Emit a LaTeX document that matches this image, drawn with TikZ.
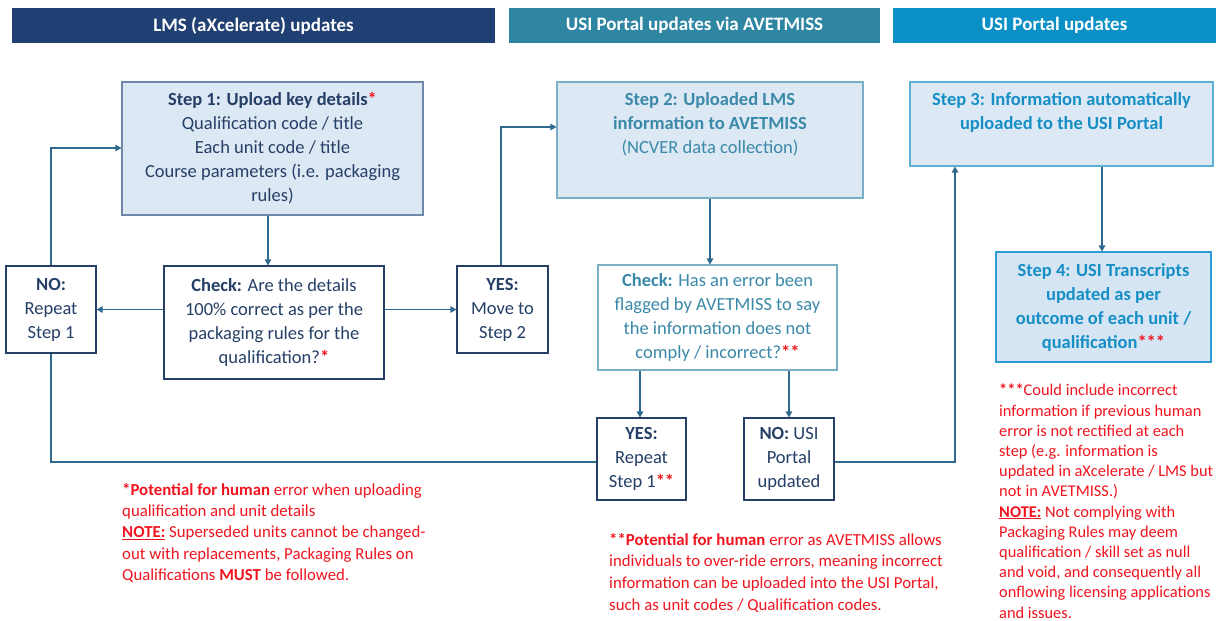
\documentclass[tikz,border=0pt]{standalone}
\usepackage{fontspec}
\setmainfont{Carlito}
\usetikzlibrary{arrows.meta,positioning}
\definecolor{navy}{HTML}{203F72}
\definecolor{tealbar}{HTML}{2F86A3}
\definecolor{bluebar}{HTML}{0A90C7}
\definecolor{lfill}{HTML}{DDE8F5}
\definecolor{lfillb}{HTML}{D5E5F3}
\definecolor{bnavy}{HTML}{6F88A9}
\definecolor{bteal}{HTML}{7AAFC6}
\definecolor{bblue}{HTML}{5BB0D8}
\definecolor{bblue2}{HTML}{2C9CD6}
\definecolor{tnavy}{HTML}{253F66}
\definecolor{tteal}{HTML}{3A89A8}
\definecolor{tblue}{HTML}{168FC6}
\definecolor{conn}{HTML}{2D6A8E}
\definecolor{nred}{HTML}{F0141E}
\tikzset{
  header/.style={fill=#1, text=white, font=\fontsize{19}{22}\selectfont\bfseries, inner sep=0pt},
  box/.style={draw=#1, line width=1.1pt, inner sep=0pt, align=center, font=\fontsize{18.5}{24}\selectfont},
  conline/.style={draw=conn, line width=1.1pt},
  conarrow/.style={conline, -{Triangle[length=6pt,width=6.5pt]}},
  note/.style={text=nred, align=left, anchor=north west, inner sep=0pt, font=\fontsize{16.8}{21.3}\selectfont}
}
\newcommand{\rst}[1]{\textcolor{nred}{\textbf{#1}}}
\begin{document}
\begin{tikzpicture}[x=1pt,y=-1pt]
\useasboundingbox (0,0) rectangle (1216,621);
% headers
\node[header=navy, minimum width=483pt, minimum height=35pt] (h1) at (253.5,25.5) {LMS (aXcelerate) updates};
\node[header=tealbar, minimum width=371pt, minimum height=35pt] (h2) at (694.5,25.5) {USI Portal updates via AVETMISS};
\node[header=bluebar, minimum width=323pt, minimum height=35pt] (h3) at (1054.5,25.5) {USI Portal updates};
% step 1
\node[box=bnavy, fill=lfill, text=tnavy, minimum width=301pt, minimum height=133pt] (s1) at (272.5,148.5)
  {\textbf{Step 1: Upload key details}\rst{*}\\Qualification code / title\\Each unit code / title\\Course parameters (i.e. packaging\\rules)};
% check 1
\node[box=tnavy, fill=white, text=tnavy, minimum width=220pt, minimum height=113pt] (c1) at (274,322.5)
  {\textbf{Check:} Are the details\\100\% correct as per the\\packaging rules for the\\qualification?\rst{*}};
% NO
\node[box=tnavy, fill=white, text=tnavy, minimum width=90pt, minimum height=87pt] (no1) at (51,309.5)
  {\textbf{NO:}\\Repeat\\Step 1};
% YES
\node[box=tnavy, fill=white, text=tnavy, minimum width=91pt, minimum height=87pt] (yes1) at (502.5,309.5)
  {\textbf{YES:}\\Move to\\Step 2};
% step 2
\node[box=bteal, fill=lfill, minimum width=306pt, minimum height=116pt] (s2) at (710,140) {};
\node[font=\fontsize{18.5}{24}\selectfont, text=tteal, align=center, anchor=north, inner sep=0pt] (s2t) at (710,92)
  {\textbf{Step 2: Uploaded LMS}\\\textbf{information to AVETMISS}\\(NCVER data collection)};
% step 3
\node[box=bblue, fill=lfill, minimum width=303pt, minimum height=84pt] (s3) at (1061.5,124) {};
\node[font=\fontsize{18.5}{24}\selectfont\bfseries, text=tblue, align=center, anchor=north, inner sep=0pt] (s3t) at (1061.5,92)
  {Step 3: Information automatically\\uploaded to the USI Portal};
% check 2
\node[box=bteal, fill=white, text=tteal, minimum width=239pt, minimum height=105pt] (c2) at (717.5,317.5)
  {\textbf{Check:} Has an error been\\flagged by AVETMISS to say\\the information does not\\comply / incorrect?\rst{**}};
% YES 2
\node[box=tnavy, fill=white, text=tnavy, minimum width=89pt, minimum height=82pt] (yes2) at (641.5,459)
  {\textbf{YES:}\\Repeat\\Step 1\rst{**}};
% NO 2
\node[box=tnavy, fill=white, text=tnavy, minimum width=90pt, minimum height=82pt] (no2) at (789,459)
  {\textbf{NO:} USI\\Portal\\updated};
% step 4
\node[box=bblue2, fill=lfillb, text=tblue, minimum width=215pt, minimum height=110pt, font=\fontsize{18.5}{24}\selectfont\bfseries] (s4) at (1103.5,307)
  {Step 4: USI Transcripts\\updated as per\\outcome of each unit /\\qualification\rst{***}};
% connectors
\draw[conarrow] (s1.south -| 268,0) -- (c1.north -| 268,0);
\draw[conarrow] (c1.west |- no1.east) -- (no1.east);
\draw[conarrow] (c1.east |- yes1.west) -- (yes1.west);
\draw[conarrow] (no1.north) -- (no1.north |- 0,148) -- (s1.west |- 0,148);
\draw[conline] (no1.south) -- (no1.south |- 0,462) -- (yes2.west |- 0,462);
\draw[conarrow] (yes1.north -| 501,0) -- (501,127) -- (s2.west |- 0,127);
\draw[conarrow] (s2.south) -- (c2.north -| s2.south);
\draw[conarrow] (c2.south -| 640,0) -- (yes2.north -| 640,0);
\draw[conarrow] (c2.south -| 789,0) -- (no2.north);
\draw[conarrow] (no2.east |- 0,462) -- (955,462) -- (s3.south -| 955,0);
\draw[conarrow] (s3.south -| 1102,0) -- (s4.north -| 1102,0);
% notes
\node[note] (n1) at (122,483) {\textbf{*Potential for human} error when uploading\\qualification and unit details\\\textbf{\underline{NOTE:}} Superseded units cannot be changed-\\out with replacements, Packaging Rules on\\Qualifications \textbf{MUST} be followed.};
\node[note, font=\fontsize{16.8}{21.7}\selectfont] (n2) at (609,533) {\textbf{**Potential for human} error as AVETMISS allows\\individuals to over-ride errors, meaning incorrect\\information can be uploaded into the USI Portal,\\such as unit codes / Qualification codes.};
\node[note, font=\fontsize{16.4}{20.2}\selectfont] (n3) at (999,384) {\textbf{***}Could include incorrect\\information if previous human\\error is not rectified at each\\step (e.g. information is\\updated in aXcelerate / LMS but\\not in AVETMISS.)\\\textbf{\underline{NOTE:}} Not complying with\\Packaging Rules may deem\\qualification / skill set as null\\and void, and consequently all\\onflowing licensing applications\\and issues.};
\end{tikzpicture}
\end{document}
